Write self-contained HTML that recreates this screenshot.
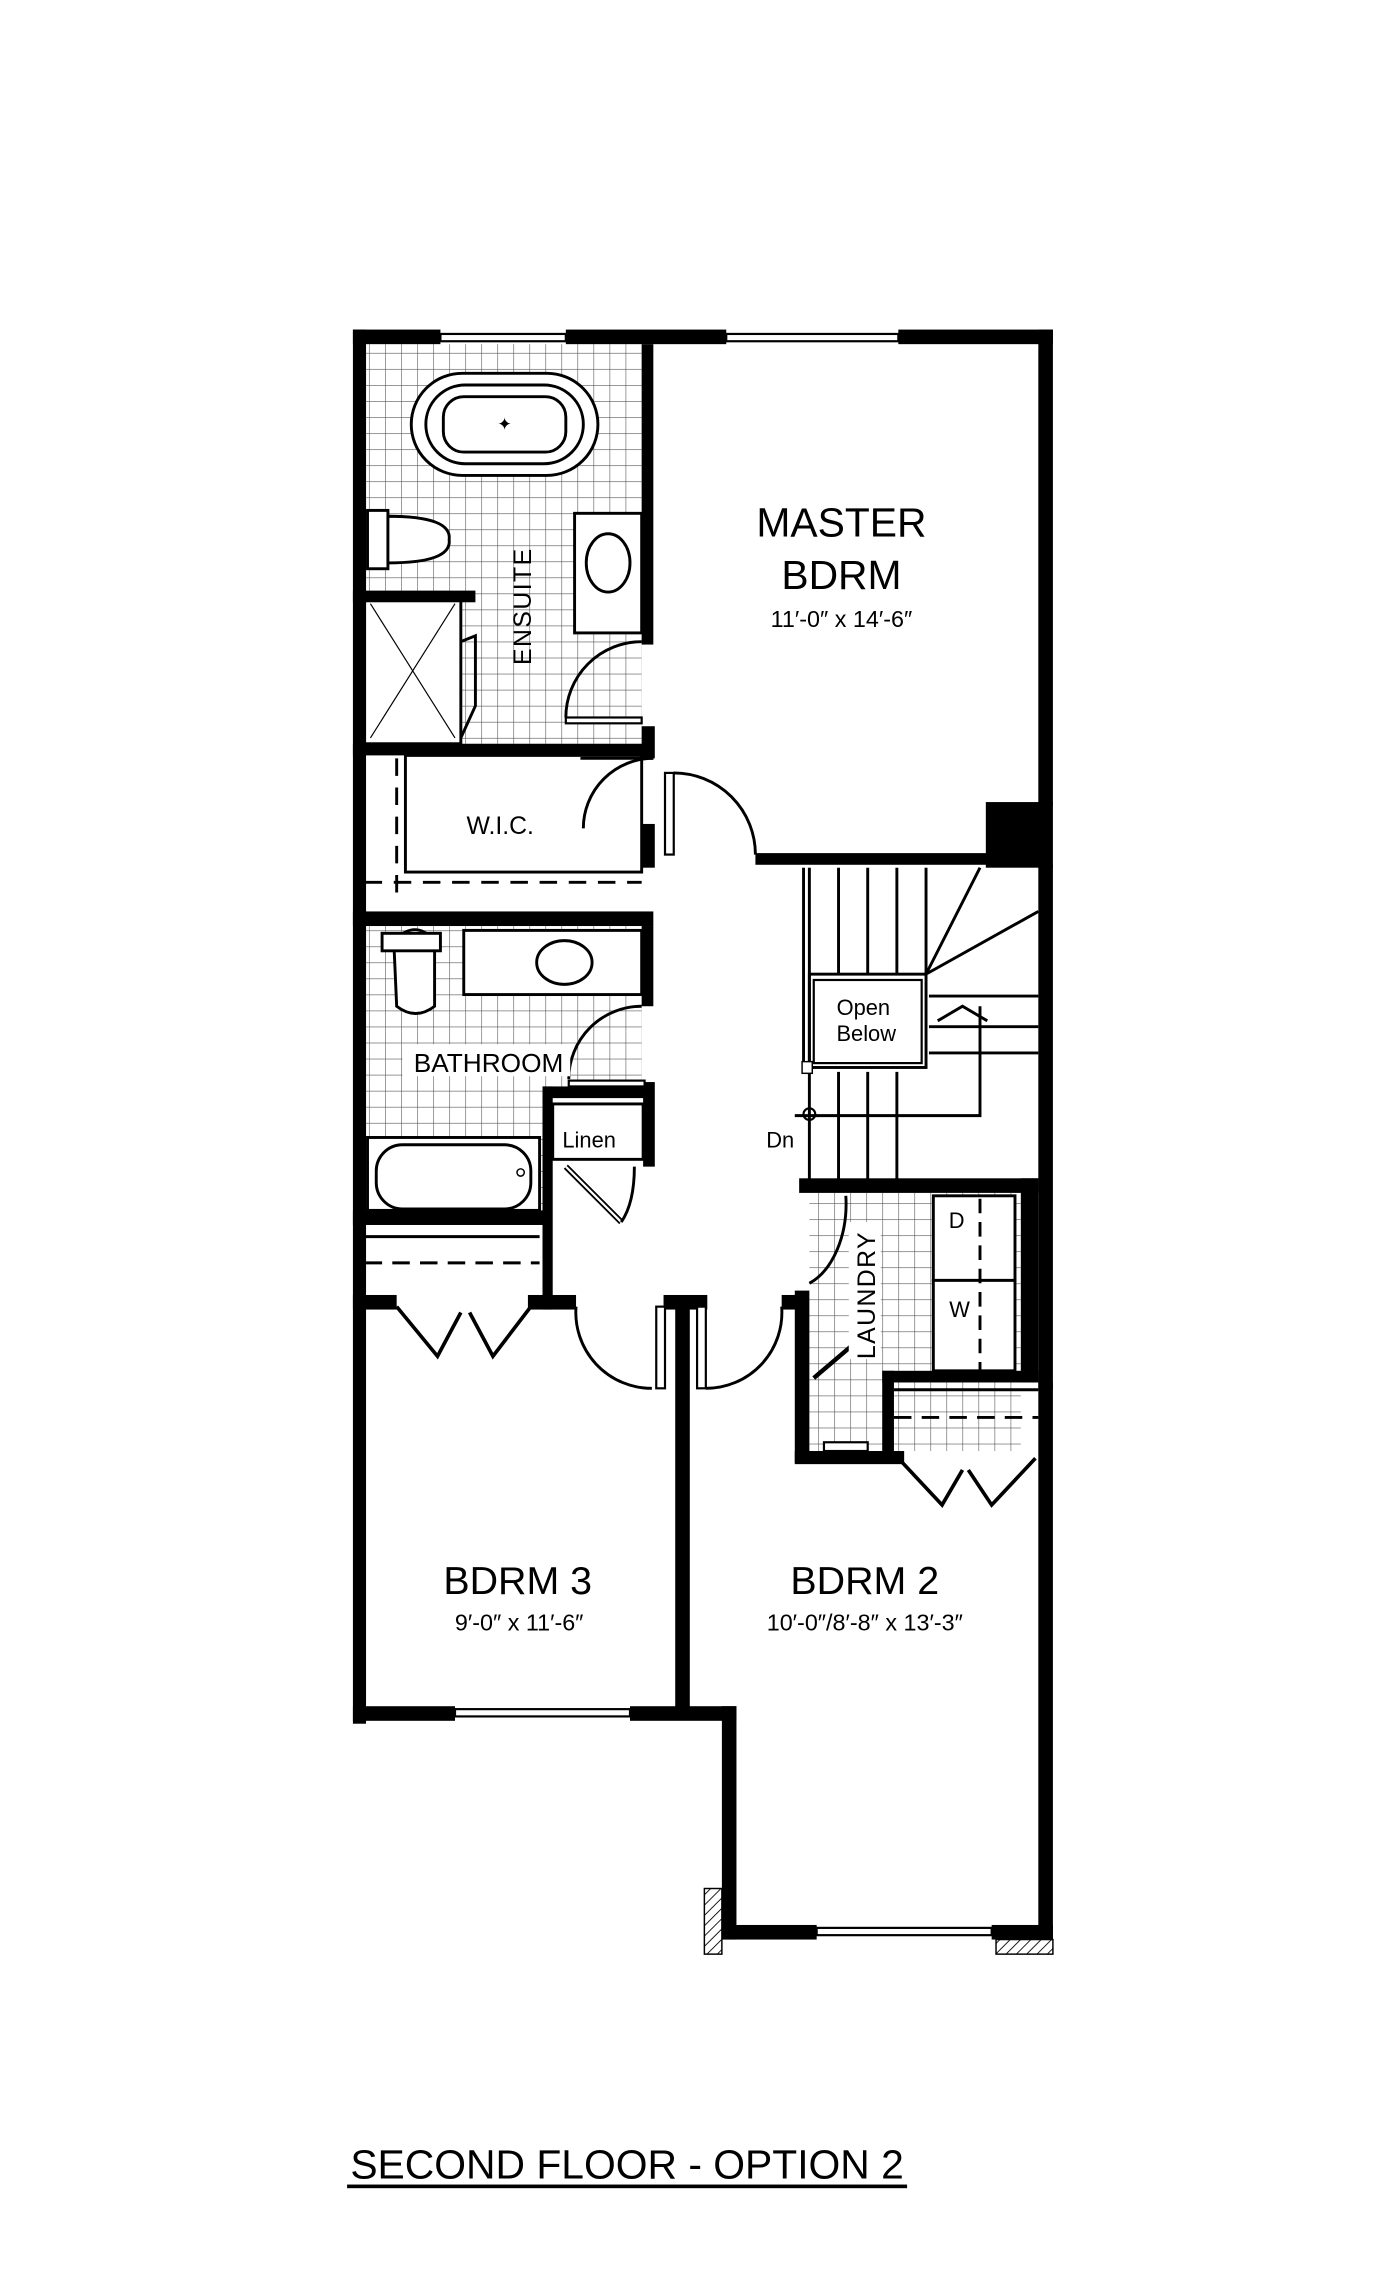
<!DOCTYPE html>
<html><head><meta charset="utf-8"><style>
html,body{margin:0;padding:0;background:#fff;}
svg{display:block;}
text{font-family:"Liberation Sans","DejaVu Sans",sans-serif;fill:#000;}
</style></head><body>
<svg width="1400" height="2277" viewBox="0 0 960 1561.4" xmlns="http://www.w3.org/2000/svg">
<defs>
<pattern id="tile" width="11" height="11" patternUnits="userSpaceOnUse">
<rect width="11" height="11" fill="#fff"/>
<path d="M0 0H11M0 0V11" stroke="#555" stroke-width="0.8" fill="none"/>
</pattern>
<pattern id="hatch" width="5" height="5" patternUnits="userSpaceOnUse" patternTransform="rotate(45)">
<rect width="5" height="5" fill="#fff"/><path d="M0 0V5" stroke="#000" stroke-width="1.2"/>
</pattern>
</defs>
<rect width="960" height="1561.4" fill="#fff"/>

<!-- tiled floors -->
<rect x="250" y="236" width="190" height="274" fill="url(#tile)"/>
<rect x="250" y="635" width="190" height="110" fill="url(#tile)"/>
<rect x="250" y="745" width="122" height="85" fill="url(#tile)"/>
<rect x="555" y="818" width="145" height="177" fill="url(#tile)"/>

<!-- ensuite fixtures -->
<rect x="282" y="256" width="128" height="70" rx="35" fill="#fff" stroke="#000" stroke-width="2"/>
<rect x="292" y="264" width="108" height="54" rx="27" fill="none" stroke="#000" stroke-width="2"/>
<rect x="304" y="272" width="84" height="38" rx="14" fill="none" stroke="#000" stroke-width="2"/>
<text x="346" y="295" font-size="12" text-anchor="middle" fill="#888">✦</text>
<rect x="394" y="352" width="46" height="82" fill="#fff" stroke="#000" stroke-width="2"/>
<ellipse cx="417" cy="386" rx="15" ry="20" fill="#fff" stroke="#000" stroke-width="2"/>
<rect x="252" y="350" width="14" height="40" fill="#fff" stroke="#000" stroke-width="2"/>
<path d="M266 354 Q310 354 308 370 Q310 386 266 386Z" fill="#fff" stroke="#000" stroke-width="2"/>
<rect x="250" y="410" width="66" height="100" fill="#fff" stroke="#000" stroke-width="2"/>
<path d="M254 414L312 506M312 414L254 506" stroke="#000" stroke-width="0.8"/>
<rect x="242" y="405" width="84" height="8"/>
<path d="M316 440L326 436L326 484L316 506" fill="none" stroke="#000" stroke-width="2"/>
<text x="0" y="0" font-size="17" transform="translate(364 456) rotate(-90)" letter-spacing="1">ENSUITE</text>
<path d="M440 440 A52 52 0 0 0 388 492" fill="none" stroke="#000" stroke-width="2"/>
<rect x="388" y="492" width="52" height="4" fill="#fff" stroke="#000" stroke-width="1.5"/>

<!-- walls -->
<g fill="#000">
<rect x="242" y="226" width="60" height="10"/>
<rect x="388" y="226" width="110" height="10"/>
<rect x="616" y="226" width="106" height="10"/>
<rect x="242" y="226" width="9" height="956"/>
<rect x="712" y="226" width="10" height="326"/>
<rect x="440" y="236" width="8" height="206"/>
<rect x="242" y="510" width="206" height="8"/>
<rect x="440" y="498" width="9" height="22"/>
<rect x="440" y="565" width="9" height="30"/>
<rect x="242" y="625" width="206" height="10"/>
<rect x="440" y="635" width="8" height="55"/>
<rect x="518" y="585" width="194" height="8"/>
<rect x="676" y="550" width="46" height="45"/>
<rect x="712" y="593" width="10" height="360"/>
<rect x="441" y="742" width="8" height="58"/>
<rect x="372" y="745" width="76" height="8"/>
<rect x="372" y="745" width="7" height="153"/>
<rect x="242" y="830" width="130" height="10"/>
<rect x="242" y="888" width="30" height="10"/>
<rect x="362" y="888" width="33" height="10"/>
<rect x="455" y="888" width="30" height="10"/>
<rect x="463" y="893" width="10" height="285"/>
<rect x="242" y="1170" width="70" height="10"/>
<rect x="432" y="1170" width="73" height="10"/>
<rect x="495" y="1170" width="10" height="160"/>
<rect x="495" y="1320" width="65" height="10"/>
<rect x="680" y="1320" width="42" height="10"/>
<rect x="712" y="948" width="10" height="392"/>
<rect x="548" y="808" width="164" height="10"/>
<rect x="700" y="808" width="12" height="140"/>
<rect x="545" y="885" width="10" height="118"/>
<rect x="545" y="995" width="75" height="9"/>
<rect x="605" y="940" width="107" height="8"/>
<rect x="605" y="940" width="8" height="60"/>
</g>
<rect x="483" y="1295" width="12" height="45" fill="url(#hatch)" stroke="#000" stroke-width="1"/>
<rect x="683" y="1330" width="39" height="10" fill="url(#hatch)" stroke="#000" stroke-width="1"/>

<!-- windows -->
<g fill="#fff" stroke="#000" stroke-width="1.5">
<rect x="302" y="229" width="86" height="5"/>
<rect x="498" y="229" width="118" height="5"/>
<rect x="312" y="1172" width="120" height="5"/>
<rect x="560" y="1322" width="120" height="5"/>
</g>

<!-- WIC -->
<rect x="278" y="518" width="162" height="80" fill="none" stroke="#000" stroke-width="2"/>
<path d="M272 520V620M250 605H440" stroke="#000" stroke-width="2" stroke-dasharray="12 8" fill="none"/>
<text x="343" y="572" font-size="17" text-anchor="middle">W.I.C.</text>
<path d="M448 520 A48 48 0 0 0 400 568" fill="none" stroke="#000" stroke-width="2"/>
<path d="M398 520H448" stroke="#000" stroke-width="2"/>
<rect x="456" y="530" width="6" height="56" fill="#fff" stroke="#000" stroke-width="1.5"/>
<path d="M462 530 A56 56 0 0 1 518 586" fill="none" stroke="#000" stroke-width="2"/>

<!-- bathroom -->
<rect x="318" y="638" width="122" height="44" fill="#fff" stroke="#000" stroke-width="2"/>
<ellipse cx="387" cy="660" rx="19" ry="15" fill="#fff" stroke="#000" stroke-width="2"/>
<path d="M270 645 Q285 630 298 645 L298 690 Q285 700 272 690 Z" fill="#fff" stroke="#000" stroke-width="2"/>
<rect x="262" y="640" width="40" height="12" fill="#fff" stroke="#000" stroke-width="2"/>
<path d="M440 690 A50 50 0 0 0 390 740" fill="none" stroke="#000" stroke-width="2"/>
<rect x="390" y="741" width="52" height="4" fill="#fff" stroke="#000" stroke-width="1.5"/>
<rect x="276" y="716" width="115" height="22" fill="#fff"/>
<text x="335" y="735" font-size="18" text-anchor="middle">BATHROOM</text>
<rect x="252" y="780" width="118" height="50" fill="#fff" stroke="#000" stroke-width="2"/>
<rect x="258" y="785" width="106" height="44" rx="18" fill="#fff" stroke="#000" stroke-width="2"/>
<circle cx="357" cy="804" r="2.5" fill="none" stroke="#000"/>

<!-- linen -->
<rect x="379" y="757" width="62" height="38" fill="#fff" stroke="#000" stroke-width="2"/>
<text x="404" y="787" font-size="15" text-anchor="middle">Linen</text>
<path d="M388 800L426 838" stroke="#000" stroke-width="4"/>
<path d="M388 800L426 838" stroke="#fff" stroke-width="1.5"/>
<path d="M435 800 Q435 825 426 838" fill="none" stroke="#000" stroke-width="2"/>

<!-- closet bdrm3 -->
<path d="M250 866H370" stroke="#000" stroke-width="2" stroke-dasharray="12 7"/>
<path d="M250 848H370" stroke="#000" stroke-width="2"/>
<path d="M272 896L300 930L316 900M322 900L338 930L364 896" fill="none" stroke="#000" stroke-width="2.5"/>

<!-- hall doors -->
<path d="M395 896 A52 52 0 0 0 447 952" fill="none" stroke="#000" stroke-width="2"/>
<rect x="450" y="896" width="6" height="56" fill="#fff" stroke="#000" stroke-width="1.5"/>
<rect x="478" y="896" width="6" height="56" fill="#fff" stroke="#000" stroke-width="1.5"/>
<path d="M484 952 A52 52 0 0 0 536 896" fill="none" stroke="#000" stroke-width="2"/>
<rect x="536" y="888" width="12" height="10"/>

<!-- stairs -->
<g stroke="#000" stroke-width="2" fill="none">
<path d="M555 595V810M551 595V735"/>
<path d="M575 595V668M595 595V668M615 595V668M635 595V668"/>
<path d="M575 735V810M595 735V810M615 735V810"/>
<path d="M635 668L672 595M635 668L712 625"/>
<path d="M637 683H712M637 704H712M637 722H712"/>
<path d="M672 690V765H545"/>
<path d="M643 700L660 690L677 700"/>
<rect x="555" y="668" width="80" height="64"/>
<rect x="558" y="672" width="74" height="57" stroke-width="1.5"/>
</g>
<circle cx="555" cy="764" r="4" fill="none" stroke="#000" stroke-width="1.5"/>
<rect x="550" y="728" width="7" height="8" fill="#fff" stroke="#000" stroke-width="1"/>
<text x="592" y="696" font-size="15" text-anchor="middle">Open</text>
<text x="594" y="714" font-size="15" text-anchor="middle">Below</text>
<text x="535" y="787" font-size="15" text-anchor="middle">Dn</text>

<!-- laundry -->
<rect x="640" y="820" width="56" height="58" fill="#fff" stroke="#000" stroke-width="2"/>
<rect x="640" y="878" width="56" height="62" fill="#fff" stroke="#000" stroke-width="2"/>
<path d="M672 822V940" stroke="#000" stroke-width="2" stroke-dasharray="10 6"/>
<text x="656" y="842" font-size="15" text-anchor="middle">D</text>
<text x="658" y="903" font-size="15" text-anchor="middle">W</text>
<path d="M580 820 A38 58 0 0 1 555 880" fill="none" stroke="#000" stroke-width="2"/>
<path d="M558 945L585 922" stroke="#000" stroke-width="3"/>
<rect x="582" y="838" width="22" height="94" fill="#fff"/>
<text x="0" y="0" font-size="17" transform="translate(600 932) rotate(-90)" letter-spacing="1">LAUNDRY</text>
<rect x="565" y="989" width="30" height="6" fill="#fff" stroke="#000" stroke-width="1.5"/>

<!-- closet bdrm2 -->
<path d="M613 953H712" stroke="#000" stroke-width="2"/>
<path d="M613 972H712" stroke="#000" stroke-width="2" stroke-dasharray="12 7"/>
<path d="M616 1000L646 1032L660 1008M664 1008L680 1032L710 1000" fill="none" stroke="#000" stroke-width="2.5"/>

<!-- labels -->
<text x="577" y="368" font-size="28" text-anchor="middle">MASTER</text>
<text x="577" y="404" font-size="28" text-anchor="middle">BDRM</text>
<text x="577" y="430" font-size="16" text-anchor="middle">11′-0″ x 14′-6″</text>
<text x="355" y="1093" font-size="27" text-anchor="middle">BDRM 3</text>
<text x="356" y="1118" font-size="16" text-anchor="middle">9′-0″ x 11′-6″</text>
<text x="593" y="1093" font-size="27" text-anchor="middle">BDRM 2</text>
<text x="593" y="1118" font-size="16" text-anchor="middle">10′-0″/8′-8″ x 13′-3″</text>
<text x="430" y="1494" font-size="28" text-anchor="middle">SECOND FLOOR - OPTION 2</text>
<rect x="238" y="1498" width="384" height="2.5"/>
</svg>
</body></html>
